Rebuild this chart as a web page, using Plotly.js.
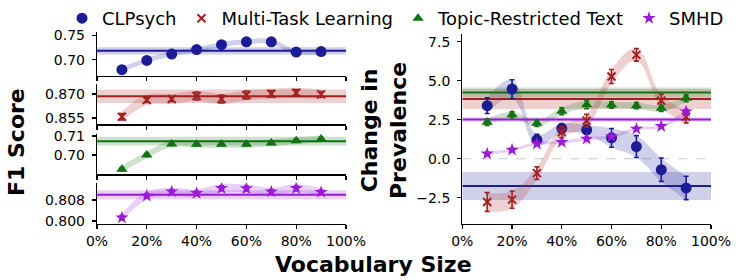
<!DOCTYPE html>
<html>
<head>
<meta charset="utf-8">
<script src="https://cdn.plot.ly/plotly-3.0.1.min.js"></script>
<style>html,body{margin:0;padding:0;background:#fff}#chart{width:747px;height:280px}</style>
</head>
<body>
<div id="chart"></div>
<script>
// ---- data ----
const vocab = [10, 20, 30, 40, 50, 60, 70, 80, 90];
const seriesNames = ["CLPsych", "Multi-Task Learning", "Topic-Restricted Text", "SMHD"];

// F1 score per vocabulary size
const f1CLPsych = [0.680, 0.699, 0.712, 0.721, 0.731, 0.737, 0.737, 0.716, 0.717];
const f1CLPsychErr = [0.003, 0.003, 0.003, 0.002, 0.003, 0.003, 0.002, 0.002, 0.002];
const f1MTL = [0.8558, 0.8663, 0.8669, 0.8688, 0.8669, 0.8694, 0.8702, 0.8708, 0.8698];
const f1MTLErr = [0.002, 0.0015, 0.0015, 0.0025, 0.0025, 0.0025, 0.002, 0.002, 0.0018];
const f1Topic = [0.6925, 0.7000, 0.7058, 0.7056, 0.7056, 0.7056, 0.7063, 0.7075, 0.7084];
const f1TopicErr = [0.0008, 0.0008, 0.0008, 0.0008, 0.0008, 0.0008, 0.0008, 0.0008, 0.0008];
const f1SMHD = [0.8013, 0.8096, 0.8112, 0.8106, 0.8125, 0.8124, 0.8112, 0.8125, 0.8110];
const f1SMHDErr = [0.0009, 0.0009, 0.0008, 0.0008, 0.0009, 0.0009, 0.0008, 0.0009, 0.0008];

// full-vocabulary baselines (value, half-width)
const f1Baseline = [0.7185, 0.8686, 0.7072, 0.8100];
const f1BaselineCI = [0.0075, 0.0042, 0.0023, 0.0017];

// change in prevalence per vocabulary size
const prevCLPsych = [3.40, 4.46, 1.21, 1.95, 1.85, 1.34, 0.78, -0.70, -1.87];
const prevCLPsychErr = [0.5, 0.6, 0.35, 0.3, 0.3, 0.6, 0.7, 0.75, 0.75];
const prevMTL = [-2.77, -2.62, -0.92, 1.70, 2.44, 5.27, 6.65, 3.72, 2.70];
const prevMTLErr = [0.6, 0.55, 0.4, 0.35, 0.4, 0.45, 0.4, 0.4, 0.4];
const prevTopic = [2.34, 2.81, 2.27, 3.04, 3.46, 3.44, 3.40, 3.23, 3.87];
const prevTopicErr = [0.2, 0.2, 0.2, 0.22, 0.25, 0.2, 0.2, 0.2, 0.22];
const prevSMHD = [0.32, 0.57, 0.96, 1.06, 1.27, 1.42, 1.91, 2.08, 3.02];
const prevSMHDErr = [0.1, 0.1, 0.1, 0.1, 0.1, 0.1, 0.1, 0.1, 0.15];
const prevBaseline = [-1.75, 3.83, 4.25, 2.51];
const prevBaselineCI = [0.9, 0.64, 0.32, 0.14];

const xTickVals = [0, 20, 40, 60, 80, 100];
const xTickText = ["0%", "20%", "40%", "60%", "80%", "100%"];
const f1TickVals = [[0.70, 0.75], [0.855, 0.870], [0.70, 0.71], [0.800, 0.808]];
const f1TickText = [["0.70", "0.75"], ["0.855", "0.870"], ["0.70", "0.71"], ["0.800", "0.808"]];
const prevTickVals = [-2.5, 0, 2.5, 5, 7.5];
const prevTickText = ["\u22122.5", "0.0", "2.5", "5.0", "7.5"];

// ---- styling ----
const colors = ["#1c1c96", "#a32020", "#137313", "#9a1ad8"];
const fills = ["rgba(40,40,160,0.22)", "rgba(175,45,45,0.22)", "rgba(30,125,30,0.22)", "rgba(160,40,220,0.22)"];
const symbols = ["circle", "x-thin", "triangle-up", "star"];
const sizes = [11, 8, 10, 10];
const f1BandHalf = [0.005, 0.0032, 0.0018, 0.0015]; // width of the smooth trend band (left)
const font = "DejaVu Sans";

const f1Vals = [f1CLPsych, f1MTL, f1Topic, f1SMHD];
const f1Errs = [f1CLPsychErr, f1MTLErr, f1TopicErr, f1SMHDErr];
const prevVals = [prevCLPsych, prevMTL, prevTopic, prevSMHD];
const prevErrs = [prevCLPsychErr, prevMTLErr, prevTopicErr, prevSMHDErr];

const traces = [];
function addSeries(i, vals, band, base, baseCI, xa, ya) {
  traces.push({x: [0, 100], y: [base - baseCI, base - baseCI], xaxis: xa, yaxis: ya, mode: "lines",
    line: {width: 0}, showlegend: false, hoverinfo: "skip"});
  traces.push({x: [0, 100], y: [base + baseCI, base + baseCI], xaxis: xa, yaxis: ya, mode: "lines",
    line: {width: 0}, fill: "tonexty", fillcolor: fills[i], showlegend: false, hoverinfo: "skip"});
  traces.push({x: vocab, y: vals.map((v, k) => v - band[k]), xaxis: xa, yaxis: ya, mode: "lines",
    line: {width: 0, shape: "spline", smoothing: 1.2}, showlegend: false, hoverinfo: "skip"});
  traces.push({x: vocab, y: vals.map((v, k) => v + band[k]), xaxis: xa, yaxis: ya, mode: "lines",
    line: {width: 0, shape: "spline", smoothing: 1.2}, fill: "tonexty", fillcolor: fills[i], showlegend: false, hoverinfo: "skip"});
  traces.push({x: [0, 100], y: [base, base], xaxis: xa, yaxis: ya, mode: "lines",
    line: {width: 2, color: colors[i]}, showlegend: false, hoverinfo: "skip"});
}
function addPoints(i, vals, errs, xa, ya, legend) {
  traces.push({x: vocab, y: vals, xaxis: xa, yaxis: ya, mode: "markers", name: seriesNames[i],
    showlegend: legend,
    marker: {symbol: symbols[i], size: sizes[i], color: colors[i], line: {width: i === 1 ? 2 : 0, color: colors[i]}},
    error_y: {type: "data", array: errs, visible: true, color: colors[i], thickness: 1.6, width: 2.5}});
}

const yNames = ["y", "y2", "y3", "y4"];
const xNames = ["x", "x2", "x3", "x4"];
for (let i = 0; i < 4; i++) {
  const band = vocab.map(() => f1BandHalf[i]);
  addSeries(i, f1Vals[i], band, f1Baseline[i], f1BaselineCI[i], xNames[i], yNames[i]);
  addPoints(i, f1Vals[i], f1Errs[i], xNames[i], yNames[i], true);
}
traces.push({x: [0, 100], y: [0, 0], xaxis: "x5", yaxis: "y5", mode: "lines",
  line: {width: 1, color: "#c8c8c8", dash: "dash"}, showlegend: false, hoverinfo: "skip"});
for (let i = 0; i < 4; i++) {
  addSeries(i, prevVals[i], prevErrs[i], prevBaseline[i], prevBaselineCI[i], "x5", "y5");
}
for (let i = 0; i < 4; i++) {
  addPoints(i, prevVals[i], prevErrs[i], "x5", "y5", false);
}

const W = 747, H = 280;
const leftDom = [97 / W, 346 / W];
const rightDom = [462.3 / W, 711 / W];
const fy = (top, bot) => [1 - bot / H, 1 - top / H];

function xAxis(dom, anchor, labels) {
  return {domain: dom, anchor: anchor, range: [0, 100], tickvals: xTickVals, ticktext: xTickText,
    showticklabels: labels, showline: true, linecolor: "#000", linewidth: 1.2, ticks: "outside",
    ticklen: 4, tickwidth: 1.2, tickcolor: "#000", showgrid: false, zeroline: false,
    tickfont: {family: font, size: 14, color: "#000"}};
}
function yAxis(dom, anchor, range, tv, tt) {
  return {domain: dom, anchor: anchor, range: range, tickvals: tv, ticktext: tt,
    showline: true, linecolor: "#000", linewidth: 1.2, ticks: "outside", ticklen: 4, tickwidth: 1.2,
    tickcolor: "#000", showgrid: false, zeroline: false, ticklabelstandoff: 4,
    tickfont: {family: font, size: 14, color: "#000"}};
}

const layout = {
  width: W, height: H, margin: {l: 0, r: 0, t: 0, b: 0},
  paper_bgcolor: "#fff", plot_bgcolor: "rgba(0,0,0,0)",
  font: {family: font, color: "#000"},
  showlegend: true,
  legend: {orientation: "h", traceorder: "normal", x: 62 / W, xanchor: "left", y: 1, yanchor: "top",
    font: {family: font, size: 18, color: "#000"}, itemwidth: 30,
    bgcolor: "rgba(0,0,0,0)"},
  xaxis: xAxis(leftDom, "y", false),
  xaxis2: xAxis(leftDom, "y2", false),
  xaxis3: xAxis(leftDom, "y3", false),
  xaxis4: xAxis(leftDom, "y4", true),
  xaxis5: xAxis(rightDom, "y5", true),
  yaxis: yAxis(fy(31.7, 75.7), "x", [0.6677, 0.7576], f1TickVals[0], f1TickText[0]),
  yaxis2: yAxis(fy(84.3, 124.3), "x2", [0.8511, 0.8761], f1TickVals[1], f1TickText[1]),
  yaxis3: yAxis(fy(134, 174.3), "x3", [0.6898, 0.7110], f1TickVals[2], f1TickText[2]),
  yaxis4: yAxis(fy(182.7, 223.7), "x4", [0.7990, 0.8146], f1TickVals[3], f1TickText[3]),
  yaxis5: yAxis(fy(34.3, 223.7), "x5", [-4.16, 7.97], prevTickVals, prevTickText),
  annotations: [
    {text: "<b>F1 Score</b>", textangle: -90, x: 16 / W, y: 1 - 142 / H, xref: "paper", yref: "paper",
      xanchor: "center", yanchor: "middle",
      showarrow: false, font: {family: font, size: 22, color: "#000"}},
    {text: "<b>Change in<br>Prevalence</b>", textangle: -90, x: 384 / W, y: 1 - 130 / H, xref: "paper", yref: "paper",
      xanchor: "center", yanchor: "middle",
      showarrow: false, font: {family: font, size: 22, color: "#000"}},
    {text: "<b>Vocabulary Size</b>", x: 373.7 / W, y: 1 - 264 / H, xref: "paper", yref: "paper",
      xanchor: "center", yanchor: "middle",
      showarrow: false, font: {family: font, size: 22, color: "#000"}}
  ]
};

Plotly.newPlot("chart", traces, layout, {staticPlot: true, displayModeBar: false});
</script>
</body>
</html>
